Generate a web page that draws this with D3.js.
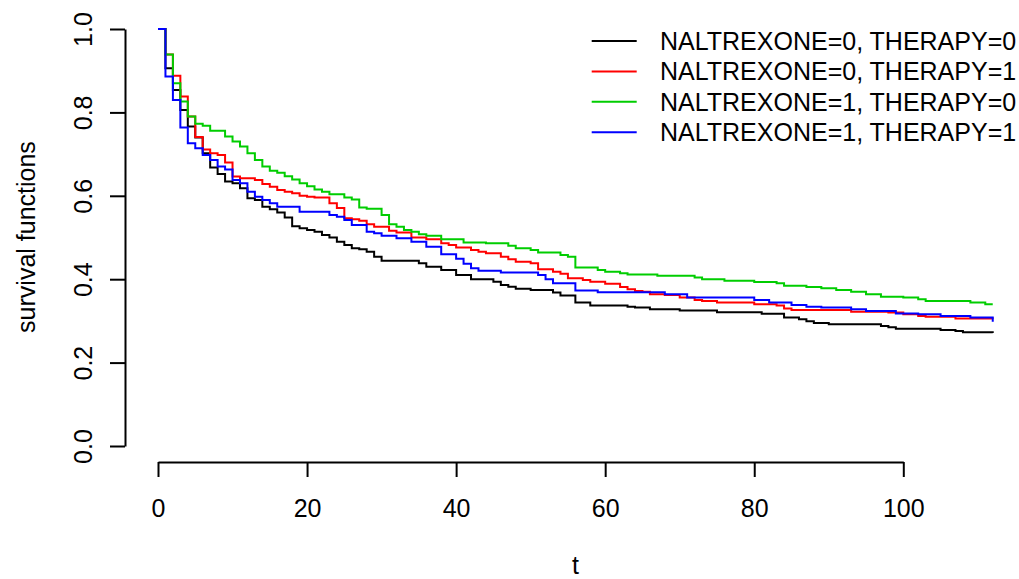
<!DOCTYPE html>
<html><head><meta charset="utf-8">
<script src="https://cdn.jsdelivr.net/npm/d3@7"></script>
<style>body{margin:0;background:#fff}svg{display:block}text{font-family:"Liberation Sans",Arial,sans-serif;fill:#000}</style>
</head><body><svg id="c" width="1019" height="579"></svg>
<script>
const seriesNames = ["NALTREXONE=0, THERAPY=0","NALTREXONE=0, THERAPY=1","NALTREXONE=1, THERAPY=0","NALTREXONE=1, THERAPY=1"];
const seriesColors = ["#000000","#FF0000","#00CD00","#0000FF"];
const xTicks = [0,20,40,60,80,100];
const yTicks = [0,0.2,0.4,0.6,0.8,1.0];
const yTickLabels = ["0.0","0.2","0.4","0.6","0.8","1.0"];

const t00 = [0,1,2,3,4,5,6,7,8,9,10,11,12,13,14,15,16,17,18,19,20,21,22,23,24,25,26,27,28,29,30,35,36,38,40,42,45,46,47,48,50,53,54,56,58,63,64,66,70,75,81,84,86,87,88,90,97,98,99,105,107,108,112];
const s00 = [1,0.906,0.854,0.806,0.766,0.740,0.702,0.668,0.652,0.634,0.630,0.618,0.594,0.590,0.574,0.568,0.560,0.548,0.527,0.522,0.518,0.514,0.506,0.500,0.490,0.482,0.474,0.472,0.466,0.454,0.444,0.438,0.430,0.422,0.410,0.400,0.394,0.386,0.382,0.377,0.374,0.368,0.361,0.344,0.337,0.334,0.332,0.328,0.325,0.321,0.317,0.308,0.304,0.299,0.295,0.292,0.288,0.285,0.281,0.278,0.276,0.273,0.271];

const t01 = [0,1,2,3,4,5,6,7,8,9,10,11,13,14,15,16,17,18,19,20,21,23,24,25,26,27,28,29,31,32,34,36,38,39,40,42,43,44,46,47,48,50,51,53,54,55,57,58,60,62,63,64,65,66,68,70,72,73,75,80,83,84,85,93,98,100,102,103,107,112];
const s01 = [1,0.939,0.888,0.838,0.790,0.741,0.711,0.702,0.698,0.680,0.646,0.642,0.638,0.628,0.622,0.614,0.610,0.606,0.600,0.598,0.596,0.582,0.571,0.546,0.544,0.540,0.532,0.526,0.516,0.512,0.500,0.496,0.486,0.482,0.476,0.470,0.466,0.462,0.454,0.448,0.442,0.438,0.424,0.418,0.413,0.402,0.398,0.394,0.389,0.381,0.376,0.372,0.370,0.364,0.362,0.356,0.350,0.348,0.344,0.340,0.337,0.330,0.326,0.322,0.320,0.316,0.312,0.310,0.306,0.305];

const t10 = [0,1,2,3,4,5,6,7,9,10,11,12,13,14,15,16,17,18,19,20,21,22,23,25,26,27,28,30,31,32,33,34,35,36,38,41,44,47,48,50,51,54,55,56,59,60,62,63,67,72,73,76,80,83,84,87,89,91,93,95,97,100,102,103,109,111,112];
const s10 = [1,0.939,0.870,0.826,0.790,0.773,0.768,0.756,0.742,0.730,0.718,0.702,0.686,0.670,0.660,0.655,0.647,0.639,0.630,0.623,0.615,0.610,0.604,0.596,0.591,0.572,0.569,0.554,0.532,0.526,0.518,0.514,0.508,0.504,0.496,0.488,0.486,0.480,0.474,0.470,0.464,0.458,0.454,0.428,0.422,0.418,0.414,0.411,0.408,0.404,0.400,0.396,0.393,0.390,0.384,0.381,0.378,0.374,0.370,0.364,0.358,0.356,0.352,0.348,0.344,0.340,0.340];

const t11 = [0,1,2,3,4,5,6,7,8,9,10,11,12,13,14,15,16,19,23,24,25,26,28,29,30,32,34,36,38,40,41,42,43,46,51,52,53,56,59,68,71,80,82,85,87,89,93,95,99,102,105,109,112];
const s11 = [1,0.886,0.830,0.764,0.726,0.714,0.698,0.686,0.670,0.663,0.638,0.630,0.610,0.598,0.590,0.582,0.574,0.562,0.554,0.550,0.542,0.530,0.514,0.510,0.504,0.498,0.490,0.478,0.460,0.449,0.437,0.426,0.420,0.416,0.410,0.400,0.390,0.373,0.369,0.364,0.356,0.350,0.344,0.338,0.334,0.332,0.328,0.324,0.318,0.316,0.312,0.308,0.298];

const seriesTimes = [t00,t01,t10,t11];
const seriesSurv = [s00,s01,s10,s11];

const svg = d3.select("#c");
const x = d3.scaleLinear().domain([0,100]).range([158,903.3]);
const y = d3.scaleLinear().domain([0,1]).range([446,29]);
const FS = 25;

// curves
const line = d3.line().x(d=>x(d[0])).y(d=>y(d[1])).curve(d3.curveStepAfter);
seriesTimes.forEach((ts,i)=>{
  const pts = ts.map((t,j)=>[t,seriesSurv[i][j]]);
  svg.append("path").attr("d",line(pts)).attr("fill","none")
    .attr("stroke",seriesColors[i]).attr("stroke-width",2);
});

// x axis
const gx = svg.append("g").attr("transform","translate(0,462)")
  .call(d3.axisBottom(x).tickValues(xTicks).tickSize(15).tickSizeOuter(0).tickFormat(d3.format("d")));
gx.select(".domain").attr("stroke","#000").attr("stroke-width",2);
gx.selectAll(".tick line").attr("stroke","#000").attr("stroke-width",2);
gx.selectAll(".tick text").attr("y",46).attr("dy","0.35em").attr("font-size",FS)
  .attr("font-family","Liberation Sans, Arial, sans-serif").attr("fill","#000");

// y axis
const gy = svg.append("g").attr("transform","translate(125,0)")
  .call(d3.axisLeft(y).tickValues(yTicks).tickSize(15).tickSizeOuter(0).tickFormat((d,i)=>yTickLabels[i]));
gy.select(".domain").attr("stroke","#000").attr("stroke-width",2);
gy.selectAll(".tick line").attr("stroke","#000").attr("stroke-width",2);
gy.selectAll(".tick text").attr("x",0).attr("y",0).attr("dy","0.35em")
  .attr("transform","translate(-41.5,0) rotate(-90)").attr("text-anchor","middle")
  .attr("font-size",FS).attr("font-family","Liberation Sans, Arial, sans-serif").attr("fill","#000");

// titles
svg.append("text").attr("x",575.5).attr("y",565).attr("dy","0.35em").attr("text-anchor","middle")
  .attr("font-size",FS).text("t");
svg.append("text").attr("transform","translate(26,237) rotate(-90)").attr("dy","0.35em")
  .attr("text-anchor","middle").attr("font-size",FS).text("survival functions");

// legend
const lg = svg.append("g");
seriesNames.forEach((n,i)=>{
  const yy = 41 + i*30.4;
  lg.append("line").attr("x1",591.7).attr("x2",636.7).attr("y1",yy).attr("y2",yy)
    .attr("stroke",seriesColors[i]).attr("stroke-width",2);
  lg.append("text").attr("x",660).attr("y",yy).attr("dy","0.35em").attr("font-size",FS).text(n);
});
</script></body></html>
